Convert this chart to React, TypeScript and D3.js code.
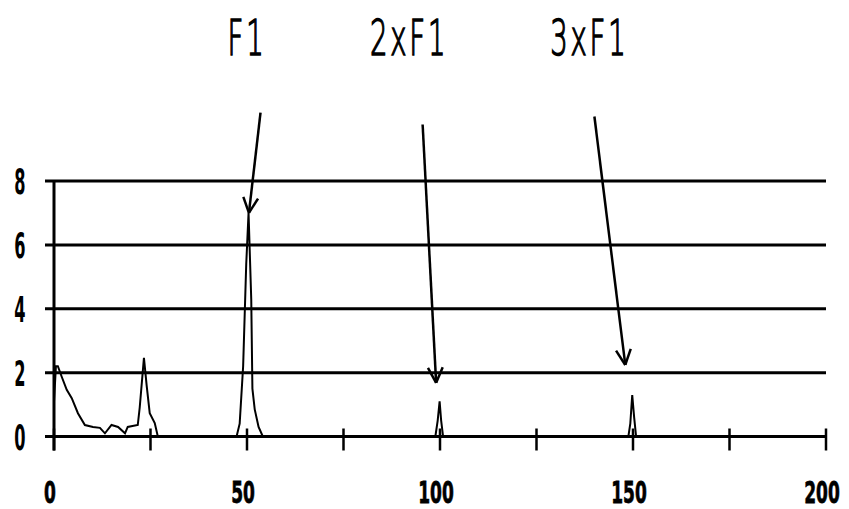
import React, { useRef, useEffect } from 'react'
import * as d3 from 'd3'

// spectrum samples (frequency, amplitude)
const freq = [
  0, 0.5, 1, 2.0, 3.3, 4.6, 6.2, 8.0, 10.1, 11.9, 13.2, 14.9, 16.6, 18.4, 19.1, 21.7, 22.2, 23.3, 24.0, 24.8, 26.1, 26.9,
  47.3, 48.1, 49.0, 49.8, 50.4, 51.1, 51.4, 52.0, 53.0, 54.1,
  98.8, 99.4, 99.9, 100.3, 100.8,
  148.8, 149.3, 149.8, 150.3, 150.8,
  200,
]
const amp = [
  1.1, 2.2, 2.2, 1.87, 1.46, 1.2, 0.73, 0.36, 0.3, 0.27, 0.1, 0.36, 0.3, 0.1, 0.3, 0.36, 0.9, 2.46, 1.6, 0.73, 0.42, 0,
  0, 0.4, 2.2, 5.4, 7.0, 4.3, 1.5, 0.85, 0.3, 0,
  0, 0.5, 1.1, 0.5, 0,
  0, 0.4, 1.3, 0.6, 0,
  0,
]

const xTicks = [0, 25, 50, 75, 100, 125, 150, 175, 200]
const xLabels = [0, 50, 100, 150, 200]
const yTicks = [0, 2, 4, 6, 8]

// harmonic annotations
const harmonicNames = ['F1', '2xF1', '3xF1']
const harmonicLabelAt = [50, 92, 138.7]
const arrowFrom = [[53.5, 10.14], [95.5, 9.77], [140, 10.02]]
const arrowTo = [[50.5, 7.0], [99.0, 1.68], [148, 2.24]]

const App = () => {
  const svgRef = useRef<SVGSVGElement>(null)

  useEffect(() => {
    const width = 849
    const height = 509
    const x = d3.scaleLinear().domain([0, 200]).range([54, 826])
    const y = d3.scaleLinear().domain([0, 8]).range([436.5, 181])

    const svg = d3.select(svgRef.current)
    svg.selectAll('*').remove()
    svg.attr('width', width).attr('height', height)

    // horizontal grid
    svg.append('g')
      .selectAll('line')
      .data(yTicks)
      .join('line')
      .attr('x1', x(0) - 9)
      .attr('x2', x(200))
      .attr('y1', (d) => y(d))
      .attr('y2', (d) => y(d))
      .attr('stroke', '#000')
      .attr('stroke-width', 3)

    // y axis line
    svg.append('line')
      .attr('x1', x(0)).attr('x2', x(0))
      .attr('y1', y(8) - 1).attr('y2', y(0) + 14)
      .attr('stroke', '#000')
      .attr('stroke-width', 3)

    // x ticks
    svg.append('g')
      .selectAll('line')
      .data(xTicks)
      .join('line')
      .attr('x1', (d) => x(d))
      .attr('x2', (d) => x(d))
      .attr('y1', y(0) - 8)
      .attr('y2', y(0) + 14)
      .attr('stroke', '#000')
      .attr('stroke-width', 2.5)

    // y labels
    svg.append('g')
      .selectAll('text')
      .data(yTicks)
      .join('text')
      .attr('transform', (d) => `translate(20,${y(d) + 13}) scale(0.45,1)`)
      .attr('text-anchor', 'middle')
      .attr('font-family', 'DejaVu Sans')
      .attr('font-weight', 'bold')
      .attr('font-size', 36)
      .text((d) => d)

    // x labels
    svg.append('g')
      .selectAll('text')
      .data(xLabels)
      .join('text')
      .attr('transform', (d) => `translate(${x(d) - 4},503) scale(0.55,1)`)
      .attr('text-anchor', 'middle')
      .attr('font-family', 'DejaVu Sans')
      .attr('font-weight', 'bold')
      .attr('font-size', 31)
      .attr('stroke', '#000')
      .attr('stroke-width', 0.8)
      .text((d) => d)

    // spectrum line
    const pts = freq.map((f, i) => [f, amp[i]] as [number, number])
    const line = d3.line<[number, number]>().x((d) => x(d[0])).y((d) => y(d[1]))
    svg.append('path')
      .datum(pts)
      .attr('d', line)
      .attr('fill', 'none')
      .attr('stroke', '#000')
      .attr('stroke-width', 2)

    // arrows
    harmonicNames.forEach((name, i) => {
      const x1 = x(arrowFrom[i][0])
      const y1 = y(arrowFrom[i][1])
      const x2 = x(arrowTo[i][0])
      const y2 = y(arrowTo[i][1])
      svg.append('line')
        .attr('x1', x1).attr('y1', y1).attr('x2', x2).attr('y2', y2)
        .attr('stroke', '#000').attr('stroke-width', 2.5)
      const ang = Math.atan2(y1 - y2, x1 - x2)
      const len = 17
      ;[-0.45, 0.45].forEach((da) => {
        svg.append('line')
          .attr('x1', x2).attr('y1', y2)
          .attr('x2', x2 + len * Math.cos(ang + da))
          .attr('y2', y2 + len * Math.sin(ang + da))
          .attr('stroke', '#000').attr('stroke-width', 2.5)
      })
      svg.append('text')
        .attr('transform', `translate(${x(harmonicLabelAt[i])},55) scale(0.55,1)`)
        .attr('text-anchor', 'middle')
        .attr('font-family', 'DejaVu Sans')
        .attr('font-weight', 200)
        .attr('font-size', 50)
        .attr('letter-spacing', 5)
        .attr('fill', '#000')
        .attr('stroke', '#000')
        .attr('stroke-width', 1.6)
        .text(name)
    })
  }, [])

  return (
    <svg ref={svgRef} style={{ position: 'absolute', left: 0, top: 0, background: '#fff' }} />
  )
}

export default App
